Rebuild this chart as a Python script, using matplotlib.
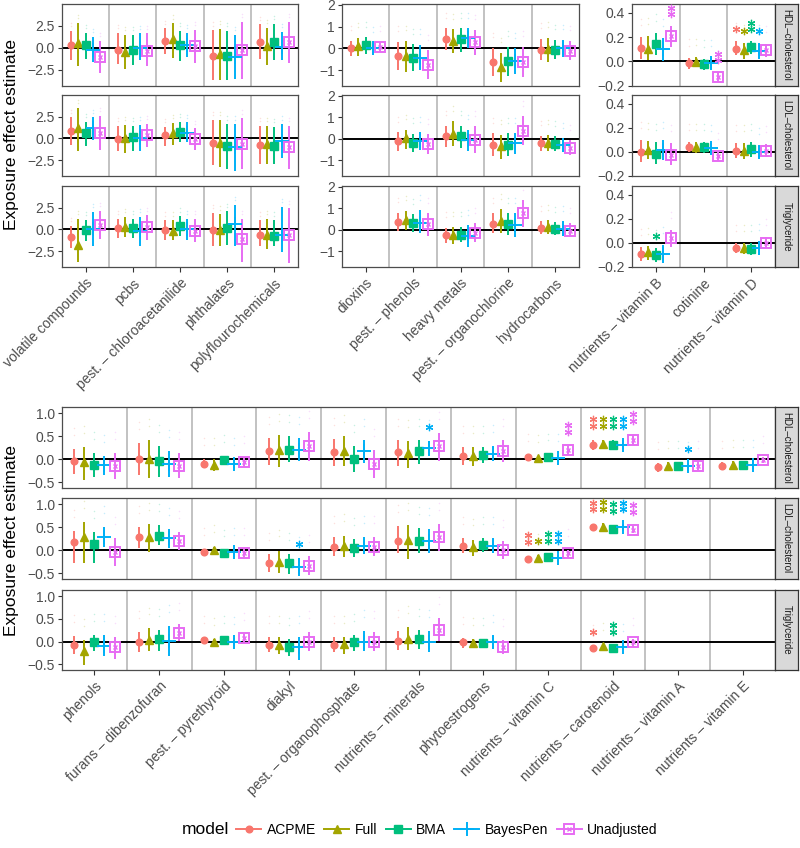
import matplotlib
matplotlib.use("Agg")
import matplotlib.pyplot as plt
from matplotlib.lines import Line2D

plt.rcParams['font.family'] = ['Liberation Sans', 'DejaVu Sans']

# ---------------- data ----------------
models = ["ACPME", "Full", "BMA", "BayesPen", "Unadjusted"]
colors = ["#F8766D", "#A3A500", "#00BF7D", "#00B0F6", "#E76BF3"]
outcomes = ["HDL\u2013cholesterol", "LDL\u2013cholesterol", "Triglyceride"]

cats_left = ["volatile compounds", "pcbs", "pest. \u2013 chloroacetanilide",
             "phthalates", "polyflourochemicals"]
cats_mid = ["dioxins", "pest. \u2013 phenols", "heavy metals",
            "pest. \u2013 organochlorine", "hydrocarbons"]
cats_right = ["nutrients \u2013 vitamin B", "cotinine", "nutrients \u2013 vitamin D"]
cats_bottom = ["phenols", "furans \u2013 dibenzofuran", "pest. \u2013 pyrethyroid",
               "diakyl", "pest. \u2013 organophosphate", "nutrients \u2013 minerals",
               "phytoestrogens", "nutrients \u2013 vitamin C", "nutrients \u2013 carotenoid",
               "nutrients \u2013 vitamin A", "nutrients \u2013 vitamin E"]

# left group (per category: ACPME, Full, BMA, BayesPen, Unadjusted)
left_hdl_est = [[0.3, 0.5, 0.3, -0.19, -1.02], [-0.27, -0.45, -0.27, 0.0, -0.34],
                [0.83, 0.95, 0.3, 0.38, 0.19], [-0.91, -0.64, -0.91, -1.02, -0.27],
                [0.68, 0.19, 0.64, 0.05, 0.68]]
left_hdl_lo = [[-1.33, -2.08, -1.21, -1.63, -2.84], [-1.86, -2.35, -1.97, -1.33, -2.08],
               [-0.64, -1.1, -1.48, -1.02, -1.7], [-3.67, -3.6, -3.67, -3.56, -3.48],
               [-1.21, -1.97, -1.4, -1.4, -1.77]]
left_hdl_hi = [[1.93, 2.84, 1.74, 1.25, 0.8], [1.74, 1.5, 1.44, 1.63, 1.63],
               [2.2, 2.77, 1.9, 1.74, 2.08], [2.0, 2.12, 1.9, 1.5, 2.95],
               [2.65, 2.27, 2.7, 1.8, 2.95]]
left_ldl_est = [[0.87, 1.14, 0.6, 1.14, 0.6], [-0.08, 0.0, 0.11, 0.0, 0.38],
                [0.38, 0.6, 0.76, 0.6, -0.08], [-0.57, -0.57, -0.91, -1.02, -0.64],
                [-0.72, -0.64, -0.91, -0.3, -1.02]]
left_ldl_lo = [[-0.72, -1.4, -0.83, -0.19, -1.33], [-1.5, -1.7, -1.4, -1.48, -1.02],
               [-0.91, -0.72, -0.45, -0.45, -1.33], [-3.1, -3.3, -3.48, -3.75, -3.48],
               [-2.92, -2.92, -2.9, -2.2, -3.48]]
left_ldl_hi = [[2.39, 3.52, 1.9, 2.39, 2.58], [1.44, 1.55, 1.44, 1.55, 1.7],
               [1.33, 1.78, 1.93, 1.82, 1.14], [2.12, 2.12, 1.63, 1.63, 2.31],
               [1.44, 1.44, 1.3, 1.63, 1.44]]
left_tri_est = [[-0.9, -1.75, -0.07, 0.0, 0.48], [0.11, 0.3, 0.11, -0.15, 0.22],
                [-0.07, -0.19, 0.37, 0.0, -0.15], [-0.07, -0.07, 0.11, 0.56, -1.08],
                [-0.63, -0.7, -0.75, -0.6, -0.65]]
left_tri_lo = [[-2.13, -3.73, -1.38, -1.87, -1.12], [-1.0, -0.9, -1.0, -1.94, -1.19],
               [-1.27, -1.19, -0.82, -1.27, -1.49], [-1.94, -1.94, -1.75, -1.87, -3.8],
               [-1.94, -2.24, -1.94, -2.55, -3.86]]
left_tri_hi = [[0.37, 1.23, 1.12, 1.98, 2.09], [1.23, 1.42, 1.23, 1.42, 1.6],
               [1.04, 1.04, 1.49, 1.23, 1.19], [1.9, 1.72, 2.05, 2.83, 1.23],
               [1.04, 1.23, 1.04, 2.57, 2.39]]

# middle group
mid_hdl_est = [[0.0, 0.12, 0.15, 0.0, 0.08], [-0.34, -0.35, -0.42, -0.42, -0.74],
               [0.42, 0.35, 0.42, 0.49, 0.28], [-0.62, -0.85, -0.57, -0.58, -0.6],
               [-0.05, -0.03, -0.05, 0.0, -0.1]]
mid_hdl_lo = [[-0.35, -0.35, -0.23, -0.31, -0.15], [-0.97, -1.08, -1.03, -1.0, -1.38],
              [-0.08, -0.2, -0.15, 0.0, -0.31], [-1.28, -1.54, -1.28, -1.15, -1.3],
              [-0.55, -0.6, -0.5, -0.4, -0.55]]
mid_hdl_hi = [[0.35, 0.49, 0.51, 0.28, 0.31], [0.31, 0.35, 0.2, 0.18, -0.08],
              [0.92, 0.88, 0.92, 0.92, 0.85], [0.03, -0.2, 0.08, 0.0, 0.08],
              [0.45, 0.5, 0.4, 0.4, 0.35]]
mid_ldl_est = [None, [-0.11, 0.05, -0.18, -0.11, -0.22], [0.15, 0.25, 0.12, -0.06, -0.03],
               [-0.26, -0.34, -0.26, -0.18, 0.38], [-0.2, -0.18, -0.22, -0.3, -0.4]]
mid_ldl_lo = [None, [-0.57, -0.46, -0.62, -0.49, -0.68], [-0.38, -0.34, -0.42, -0.57, -0.65],
              [-0.8, -0.95, -0.8, -0.72, -0.26], [-0.55, -0.55, -0.55, -0.6, -0.75]]
mid_ldl_hi = [None, [0.31, 0.43, 0.25, 0.31, 0.23], [0.62, 0.82, 0.62, 0.43, 0.58],
              [0.28, 0.2, 0.28, 0.28, 1.05], [0.15, 0.2, 0.12, 0.05, -0.05]]
mid_tri_est = [None, [0.38, 0.46, 0.34, 0.34, 0.26], [-0.23, -0.23, -0.23, -0.28, -0.15],
               [0.28, 0.43, 0.28, 0.23, 0.77], [0.1, 0.12, 0.05, 0.05, -0.05]]
mid_tri_lo = [None, [-0.03, 0.0, -0.08, -0.15, -0.28], [-0.62, -0.65, -0.58, -0.8, -0.58],
              [-0.15, -0.15, -0.23, -0.34, 0.15], [-0.2, -0.2, -0.25, -0.3, -0.35]]
mid_tri_hi = [None, [0.8, 0.89, 0.74, 0.92, 0.77], [0.11, 0.15, 0.15, 0.23, 0.31],
              [0.77, 0.97, 0.77, 0.77, 1.38], [0.4, 0.45, 0.35, 0.4, 0.3]]

# right group
right_hdl_est = [[0.112, 0.104, 0.145, 0.099, 0.205], [-0.014, -0.005, -0.025, -0.014, -0.129],
                 [0.104, 0.09, 0.118, 0.085, 0.09]]
right_hdl_lo = [[0.022, 0.008, 0.05, 0.0, 0.118], [-0.06, -0.047, -0.068, -0.06, -0.17],
                [0.05, 0.022, 0.063, 0.022, 0.036]]
right_hdl_hi = [[0.2, 0.205, 0.236, 0.195, 0.288], [0.03, 0.036, 0.022, 0.027, -0.088],
                [0.167, 0.15, 0.167, 0.15, 0.145]]
right_ldl_est = [[0.0, 0.014, -0.019, 0.014, -0.028], [0.042, 0.042, 0.042, 0.028, -0.036],
                 [0.008, 0.008, 0.019, 0.0, 0.008]]
right_ldl_lo = [[-0.083, -0.064, -0.1, -0.07, -0.11], [0.0, -0.008, -0.008, -0.02, -0.075],
                [-0.056, -0.064, -0.047, -0.056, -0.042]]
right_ldl_hi = [[0.097, 0.092, 0.083, 0.097, 0.075], [0.083, 0.083, 0.083, 0.075, 0.008],
                [0.07, 0.07, 0.083, 0.047, 0.064]]
right_tri_est = [[-0.096, -0.082, -0.1, -0.093, 0.036], None, [-0.047, -0.047, -0.055, -0.047, 0.0]]
right_tri_lo = [[-0.156, -0.148, -0.164, -0.17, -0.033], None, [-0.088, -0.093, -0.1, -0.1, -0.047]]
right_tri_hi = [[-0.038, -0.027, -0.047, -0.019, 0.104], None, [-0.005, 0.0, -0.005, 0.008, 0.044]]

# bottom group
bot_hdl_est = [[-0.05, -0.07, -0.12, -0.12, -0.16], [0.0, 0.0, -0.04, -0.11, -0.14],
               [-0.1, -0.12, -0.01, -0.1, -0.07], [0.18, 0.19, 0.2, 0.2, 0.28],
               [0.15, 0.18, 0.0, 0.17, -0.11], [0.15, 0.13, 0.17, 0.24, 0.28],
               [0.07, 0.07, 0.09, 0.12, 0.17], [0.04, 0.02, 0.04, 0.02, 0.19],
               [0.31, 0.33, 0.31, 0.31, 0.42], [-0.18, -0.16, -0.16, -0.16, -0.15],
               [-0.14, -0.12, -0.12, -0.12, -0.01]]
bot_hdl_lo = [[-0.33, -0.45, -0.39, -0.34, -0.44], [-0.34, -0.42, -0.38, -0.39, -0.42],
              [-0.2, -0.26, -0.12, -0.2, -0.18], [-0.12, -0.18, -0.07, -0.05, -0.05],
              [-0.16, -0.16, -0.27, -0.09, -0.42], [-0.16, -0.2, -0.1, 0.07, -0.03],
              [-0.12, -0.14, -0.09, -0.05, -0.07], [-0.03, -0.05, -0.03, -0.07, 0.09],
              [0.2, 0.24, 0.2, 0.22, 0.31], [-0.27, -0.25, -0.25, -0.25, -0.24],
              [-0.21, -0.19, -0.19, -0.21, -0.09]]
bot_hdl_hi = [[0.22, 0.26, 0.13, 0.07, 0.13], [0.36, 0.42, 0.29, 0.17, 0.13],
              [0.0, 0.0, 0.07, 0.0, 0.04], [0.46, 0.53, 0.51, 0.46, 0.59],
              [0.44, 0.5, 0.28, 0.41, 0.2], [0.42, 0.4, 0.42, 0.39, 0.57],
              [0.26, 0.26, 0.26, 0.29, 0.42], [0.09, 0.07, 0.1, 0.09, 0.28],
              [0.42, 0.42, 0.42, 0.41, 0.53], [-0.09, -0.07, -0.07, -0.09, -0.06],
              [-0.07, -0.05, -0.05, -0.05, 0.04]]
bot_ldl_est = [[0.17, 0.29, 0.14, 0.28, -0.03], [0.28, 0.28, 0.32, 0.26, 0.21],
               [-0.03, 0.01, -0.07, -0.05, -0.07], [-0.27, -0.25, -0.29, -0.37, -0.34],
               [0.08, 0.1, 0.04, 0.1, 0.08], [0.21, 0.23, 0.21, 0.21, 0.28],
               [0.1, 0.06, 0.12, 0.1, 0.01], [-0.19, -0.18, -0.16, -0.18, -0.07],
               [0.5, 0.51, 0.46, 0.5, 0.45], None, None]
bot_ldl_lo = [[-0.27, -0.27, -0.29, 0.08, -0.34], [0.04, -0.03, 0.12, 0.04, 0.01],
              [-0.1, -0.08, -0.12, -0.15, -0.15], [-0.47, -0.49, -0.51, -0.57, -0.54],
              [-0.13, -0.14, -0.15, -0.08, -0.13], [-0.07, -0.2, -0.07, -0.07, -0.01],
              [-0.07, -0.13, -0.05, -0.07, -0.19], [-0.25, -0.25, -0.21, -0.25, -0.14],
              [0.41, 0.41, 0.37, 0.41, 0.37], None, None]
bot_ldl_hi = [[0.41, 0.62, 0.39, 0.5, 0.26], [0.5, 0.57, 0.54, 0.46, 0.4],
              [0.02, 0.08, -0.01, 0.02, 0.02], [-0.08, -0.01, -0.08, -0.18, -0.13],
              [0.29, 0.32, 0.24, 0.28, 0.28], [0.52, 0.56, 0.49, 0.46, 0.57],
              [0.26, 0.23, 0.26, 0.26, 0.19], [-0.13, -0.1, -0.1, -0.1, 0.01],
              [0.58, 0.6, 0.55, 0.58, 0.52], None, None]
bot_tri_est = [[-0.07, -0.21, -0.01, -0.09, -0.13], [-0.01, 0.04, 0.06, 0.02, 0.19],
               [0.04, 0.0, 0.04, 0.0, 0.08], [-0.07, -0.07, -0.13, -0.13, 0.0],
               [-0.07, -0.05, -0.01, 0.0, 0.0], [0.02, 0.06, 0.06, 0.0, 0.26],
               [-0.01, -0.03, -0.03, -0.01, -0.13], None,
               [-0.14, -0.11, -0.15, -0.13, -0.01], None, None]
bot_tri_lo = [[-0.27, -0.51, -0.2, -0.32, -0.38], [-0.24, -0.22, -0.2, -0.31, 0.02],
              [-0.01, -0.05, -0.01, -0.1, -0.01], [-0.24, -0.27, -0.31, -0.4, -0.2],
              [-0.24, -0.27, -0.2, -0.22, -0.21], [-0.18, -0.18, -0.16, -0.24, 0.02],
              [-0.14, -0.14, -0.12, -0.15, -0.27], None,
              [-0.19, -0.16, -0.2, -0.18, -0.09], None, None]
bot_tri_hi = [[0.13, 0.04, 0.15, 0.15, 0.11], [0.21, 0.29, 0.26, 0.35, 0.39],
              [0.1, 0.06, 0.1, 0.08, 0.17], [0.1, 0.11, 0.06, 0.11, 0.21],
              [0.1, 0.1, 0.15, 0.23, 0.21], [0.23, 0.32, 0.26, 0.23, 0.52],
              [0.08, 0.06, 0.06, 0.13, 0.04], None,
              [-0.09, -0.06, -0.1, -0.08, 0.06], None, None]

# significance stars: (category index, model index, number of stars)
right_hdl_stars = [(0, 4, 2), (1, 4, 2), (2, 0, 1), (2, 1, 1), (2, 2, 2), (2, 3, 1)]
right_tri_stars = [(0, 2, 1)]
bot_hdl_stars = [(5, 3, 1), (7, 4, 2), (8, 0, 2), (8, 1, 2), (8, 2, 2), (8, 3, 2), (8, 4, 2), (9, 3, 1)]
bot_ldl_stars = [(3, 3, 1), (7, 0, 2), (7, 1, 1), (7, 2, 2), (7, 3, 2),
                 (8, 0, 2), (8, 1, 2), (8, 2, 2), (8, 3, 2), (8, 4, 2)]
bot_tri_stars = [(8, 0, 1), (8, 2, 2)]

# ---------------- drawing ----------------
W, H = 800, 848
fig = plt.figure(figsize=(W / 100, H / 100), dpi=100)

offsets = [-0.31, -0.155, 0.0, 0.155, 0.31]
STAR = (6, 2, 0)


def px_axes(x0, y0, x1, y1, **kw):
    return fig.add_axes([x0 / W, 1 - y1 / H, (x1 - x0) / W, (y1 - y0) / H], **kw)


def draw_marker(ax, x, y, m):
    c = colors[m]
    if m == 0:
        ax.plot(x, y, 'o', color=c, ms=4.8, zorder=4)
    elif m == 1:
        ax.plot(x, y, '^', color=c, ms=6.2, zorder=4)
    elif m == 2:
        ax.plot(x, y, 's', color=c, ms=5.2, zorder=4)
    elif m == 3:
        ax.plot(x, y, '+', color=c, ms=9.5, mew=1.4, zorder=4)
    else:
        ax.plot(x, y, 's', mfc='none', mec=c, ms=6.5, mew=1.4, zorder=4)
        ax.plot(x, y, 'x', color=c, ms=3.2, mew=1.0, zorder=4)


def draw_panel(ax, est, lo, hi, ylim, yticks, yticklabels, soff, stars, cats, show_x):
    n = len(est)
    ax.set_xlim(0.5, n + 0.5)
    ax.set_ylim(*ylim)
    ax.axhline(0, color='black', lw=1.4, zorder=2)
    for k in range(1, n):
        ax.axvline(k + 0.5, color='#BDBDBD', lw=1.3, zorder=1)
    for i in range(n):
        if est[i] is None:
            continue
        for m in range(5):
            x = i + 1 + offsets[m]
            ax.plot([x, x], [lo[i][m], hi[i][m]], color=colors[m], lw=1.4,
                    solid_capstyle='butt', zorder=3)
            draw_marker(ax, x, est[i][m], m)
            for o in soff:
                ax.plot(x, hi[i][m] + o, 'o', color=colors[m], ms=1.1,
                        alpha=0.22, mew=0, zorder=2)
    for (i, m, k) in stars:
        x = i + 1 + offsets[m]
        for j in range(k):
            ax.plot(x, hi[i][m] + soff[j], marker=STAR, color=colors[m], ms=5.3,
                    mew=0.9, ls='none', zorder=4)
    ax.set_yticks(yticks)
    ax.set_yticklabels(yticklabels)
    ax.tick_params(axis='y', direction='out', length=3, width=0.8,
                   color='#333333', labelcolor='#4D4D4D', labelsize=10, pad=2)
    if show_x:
        ax.set_xticks(range(1, n + 1))
        ax.set_xticklabels(cats, rotation=45, ha='right', rotation_mode='anchor')
        ax.tick_params(axis='x', direction='out', length=3.5, width=0.8,
                       color='#333333', labelcolor='#4D4D4D', labelsize=10, pad=3)
    else:
        ax.set_xticks([])
    for s in ax.spines.values():
        s.set_color('#4D4D4D')
        s.set_linewidth(0.9)
    ax.set_facecolor('white')


def draw_strip(y0, y1, label):
    sa = px_axes(775, y0, 798, y1)
    sa.set_facecolor('#D9D9D9')
    sa.set_xticks([])
    sa.set_yticks([])
    for s in sa.spines.values():
        s.set_color('#333333')
        s.set_linewidth(0.9)
    sa.text(0.5, 0.5, label, rotation=-90, ha='center', va='center',
            fontsize=7.0, color='#1A1A1A', transform=sa.transAxes)


top_rows = [(4, 86), (95, 176), (186, 267)]
bot_rows = [(407, 488), (498, 579), (590, 670)]

left_data = [(left_hdl_est, left_hdl_lo, left_hdl_hi), (left_ldl_est, left_ldl_lo, left_ldl_hi),
             (left_tri_est, left_tri_lo, left_tri_hi)]
mid_data = [(mid_hdl_est, mid_hdl_lo, mid_hdl_hi), (mid_ldl_est, mid_ldl_lo, mid_ldl_hi),
            (mid_tri_est, mid_tri_lo, mid_tri_hi)]
right_data = [(right_hdl_est, right_hdl_lo, right_hdl_hi), (right_ldl_est, right_ldl_lo, right_ldl_hi),
              (right_tri_est, right_tri_lo, right_tri_hi)]
bot_data = [(bot_hdl_est, bot_hdl_lo, bot_hdl_hi), (bot_ldl_est, bot_ldl_lo, bot_ldl_hi),
            (bot_tri_est, bot_tri_lo, bot_tri_hi)]
right_stars = [right_hdl_stars, [], right_tri_stars]
bot_stars = [bot_hdl_stars, bot_ldl_stars, bot_tri_stars]

for r, (y0, y1) in enumerate(top_rows):
    ax = px_axes(62, y0, 298, y1)
    draw_panel(ax, *left_data[r], (-4.32, 4.97), [-2.5, 0, 2.5],
               ["\u22122.5", "0.0", "2.5"], (0.53, 0.9), [], cats_left, r == 2)
    ax = px_axes(342, y0, 579, y1)
    draw_panel(ax, *mid_data[r], (-1.72, 2.04), [-1, 0, 1, 2],
               ["\u22121", "0", "1", "2"], (0.48, 0.7), [], cats_mid, r == 2)
    ax = px_axes(632, y0, 775, y1)
    draw_panel(ax, *right_data[r], (-0.203, 0.472), [-0.2, 0.0, 0.2, 0.4],
               ["\u22120.2", "0.0", "0.2", "0.4"], (0.1, 0.15), right_stars[r],
               cats_right, r == 2)
    draw_strip(y0, y1, outcomes[r])

for r, (y0, y1) in enumerate(bot_rows):
    ax = px_axes(62, y0, 775, y1)
    draw_panel(ax, *bot_data[r], (-0.63, 1.14), [-0.5, 0.0, 0.5, 1.0],
               ["\u22120.5", "0.0", "0.5", "1.0"], (0.31, 0.46), bot_stars[r],
               cats_bottom, r == 2)
    draw_strip(y0, y1, outcomes[r])

fig.text(12 / W, 1 - 135 / H, "Exposure effect estimate", rotation=90,
         ha='center', va='center', fontsize=12.5, color='black')
fig.text(12 / W, 1 - 540 / H, "Exposure effect estimate", rotation=90,
         ha='center', va='center', fontsize=12.5, color='black')

# legend
handles = []
for m in range(5):
    c = colors[m]
    if m == 0:
        h = Line2D([], [], color=c, lw=1.4, marker='o', ms=4.8)
    elif m == 1:
        h = Line2D([], [], color=c, lw=1.4, marker='^', ms=6.2)
    elif m == 2:
        h = Line2D([], [], color=c, lw=1.4, marker='s', ms=5.2)
    elif m == 3:
        h = Line2D([], [], color=c, lw=1.4, marker='+', ms=9.5, mew=1.4)
    else:
        h = (Line2D([], [], color=c, lw=1.4, marker='s', mfc='none', mec=c, ms=6.5, mew=1.4),
             Line2D([], [], color=c, lw=0, marker='x', ms=3.2, mew=1.0))
    handles.append(h)

fig.text(182 / W, 1 - 830 / H, "model", ha='left', va='center', fontsize=12.5)
fig.legend(handles, models, loc='center left', bbox_to_anchor=(236 / W, 1 - 830 / H),
           ncol=5, frameon=False, fontsize=10, handlelength=1.8, handletextpad=0.4,
           columnspacing=0.6, borderaxespad=0, borderpad=0)

fig.savefig("out.png", dpi=100, facecolor='white')
